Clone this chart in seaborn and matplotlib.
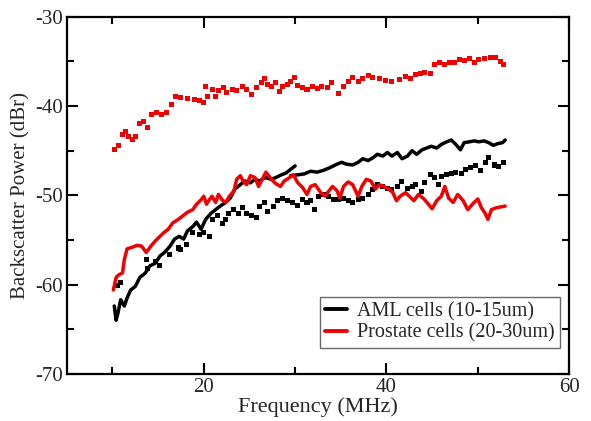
import numpy as np
import pandas as pd
import seaborn as sns
import matplotlib.pyplot as plt
from matplotlib.ticker import MultipleLocator

# AML cells, solid trace, low band (10-30 MHz)
aml_lo_x = [10.2, 10.4, 10.6, 10.9, 11.3, 11.6, 12.0, 12.5, 13.0, 13.6, 14.1, 14.7, 15.2, 15.7,
            16.3, 16.8, 17.3, 17.8, 18.2, 18.8, 19.2, 19.7, 20.2, 20.8, 21.3, 21.8, 22.4, 22.9,
            23.4, 24.0, 24.5, 25.1, 25.6, 26.1, 26.7, 27.4, 27.9, 28.5, 29.0, 29.5, 30.0]
aml_lo_y = [-62.4, -64.0, -63.2, -61.7, -62.4, -61.5, -60.6, -60.2, -59.2, -58.7, -57.9, -57.6,
            -56.8, -56.4, -55.7, -54.9, -54.6, -54.9, -54.0, -53.5, -53.0, -53.8, -52.7, -52.0,
            -51.6, -51.2, -50.8, -50.3, -49.3, -48.8, -48.4, -48.6, -48.2, -48.4, -48.0, -48.2,
            -48.0, -47.7, -47.5, -47.1, -46.7]

# AML cells, solid trace, high band
aml_hi_x = [29.5, 30.3, 31.0, 31.7, 32.4, 33.1, 33.8, 34.6, 35.1, 35.6, 36.3, 36.9, 37.4, 38.0,
            38.5, 39.0, 39.6, 40.1, 40.6, 41.2, 41.7, 42.3, 42.8, 43.3, 43.9, 44.4, 44.9, 45.5,
            46.0, 46.6, 47.1, 47.6, 48.1, 48.5, 49.1, 49.6, 50.1, 50.7, 51.2, 51.7, 52.2, 52.7, 53.0]
aml_hi_y = [-47.8, -47.7, -47.6, -47.3, -47.4, -47.2, -46.9, -46.5, -46.3, -46.5, -46.6, -46.3,
            -45.9, -46.1, -45.8, -45.4, -45.6, -45.2, -45.6, -45.2, -45.9, -45.6, -45.0, -45.4,
            -44.9, -44.7, -44.5, -44.7, -44.3, -44.0, -43.8, -44.3, -44.9, -44.1, -44.0, -43.9,
            -44.0, -43.9, -44.1, -44.4, -44.2, -44.1, -43.8]

# Prostate cells, solid trace
pro_x = [10.1, 10.4, 10.7, 11.1, 11.3, 11.6, 12.2, 12.7, 13.2, 13.7, 14.2, 14.7, 15.2, 15.6,
         16.1, 16.6, 17.2, 17.7, 18.2, 18.8, 19.2, 19.7, 20.0, 20.3, 20.6, 20.9, 21.3, 21.6,
         22.0, 22.4, 22.8, 23.3, 23.6, 24.0, 24.3, 24.7, 25.1, 25.6, 26.0, 26.4, 26.8, 27.4,
         27.9, 28.4, 28.8, 29.4, 29.8, 30.3, 30.8, 31.3, 31.7, 32.2, 32.8, 33.3, 33.7, 34.1,
         34.6, 34.9, 35.3, 35.8, 36.3, 36.9, 37.3, 37.8, 38.3, 38.8, 39.2, 39.7, 40.3, 40.7,
         41.1, 41.5, 42.1, 42.5, 43.0, 43.5, 44.1, 44.6, 45.0, 45.5, 46.0, 46.4, 46.8, 47.3,
         47.8, 48.4, 48.9, 49.5, 50.0, 50.4, 50.8, 51.1, 51.5, 52.0, 52.5, 53.0]
pro_y = [-60.6, -59.2, -58.9, -58.7, -57.2, -56.0, -55.8, -55.6, -55.7, -56.4, -55.7, -55.1,
         -54.6, -54.2, -53.8, -53.1, -52.7, -52.3, -51.9, -51.6, -51.0, -50.5, -50.1, -51.0,
         -50.5, -50.1, -50.8, -49.9, -50.5, -50.8, -50.1, -49.5, -48.2, -47.8, -48.4, -48.8,
         -47.8, -48.0, -49.0, -48.2, -47.4, -48.2, -48.7, -49.0, -48.4, -48.0, -47.7, -48.6,
         -49.1, -49.9, -49.0, -48.8, -49.7, -50.1, -49.5, -49.0, -49.5, -50.3, -49.0, -48.5,
         -48.8, -50.1, -49.0, -48.2, -48.4, -49.3, -48.8, -49.0, -49.3, -49.7, -50.6, -50.1,
         -49.7, -50.1, -50.6, -49.9, -50.4, -51.0, -51.5, -50.6, -50.1, -49.0, -50.3, -50.8,
         -49.9, -50.6, -51.6, -50.9, -50.4, -51.4, -52.0, -52.7, -51.6, -51.4, -51.3, -51.2]

# AML cells, square markers
aml_sq_x = [10.5, 10.9, 13.7, 13.8, 14.7, 15.2, 16.3, 17.2, 17.5, 18.1, 18.8, 19.5, 20.0, 20.6,
            21.0, 21.5, 22.0, 22.4, 22.7, 23.3, 23.8, 24.2, 24.7, 25.2, 25.8, 26.1, 26.7, 27.0,
            27.6, 28.1, 28.6, 29.2, 29.7, 30.3, 30.8, 31.3, 31.7, 32.1, 32.6, 33.1, 33.7, 34.2,
            34.7, 35.3, 35.8, 36.3, 36.9, 37.4, 38.0, 38.5, 39.0, 39.6, 40.1, 40.6, 41.2, 41.7,
            42.3, 42.8, 43.2, 43.8, 44.2, 44.8, 45.3, 45.7, 46.0, 46.6, 47.1, 47.6, 48.2, 48.7,
            49.2, 49.8, 50.3, 50.8, 51.2, 51.8, 52.3, 52.8]
aml_sq_y = [-60.1, -59.8, -57.2, -58.2, -57.4, -57.9, -56.6, -55.9, -56.1, -55.5, -54.2, -54.4,
            -54.2, -54.6, -52.7, -52.3, -53.1, -52.7, -52.0, -51.6, -52.0, -51.4, -52.0, -52.3,
            -52.5, -51.2, -50.8, -51.8, -51.2, -50.6, -50.4, -50.6, -50.8, -51.1, -50.5, -50.8,
            -50.6, -51.6, -50.1, -49.9, -50.1, -50.5, -50.5, -50.4, -50.6, -50.8, -50.5, -50.3,
            -49.9, -49.3, -48.8, -49.0, -49.2, -49.4, -49.0, -48.4, -49.2, -49.0, -48.8, -49.6,
            -48.6, -47.7, -48.0, -48.8, -47.9, -47.7, -47.5, -47.4, -47.5, -47.1, -46.9, -46.7,
            -47.2, -46.3, -45.8, -46.6, -46.8, -46.3]

# Prostate cells, square markers
pro_sq_x = [10.2, 10.7, 11.1, 11.4, 11.8, 12.2, 12.5, 13.0, 13.4, 13.8, 14.3, 14.8, 15.4, 15.9,
            16.5, 16.9, 17.5, 18.2, 19.0, 19.5, 20.0, 20.2, 20.4, 20.9, 21.3, 21.6, 22.2, 22.5,
            23.1, 23.6, 24.2, 24.7, 25.2, 25.8, 26.3, 26.7, 27.0, 27.4, 27.9, 28.3, 28.6, 29.2,
            29.5, 29.9, 30.3, 30.8, 31.3, 31.9, 32.4, 32.9, 33.5, 34.0, 34.7, 35.3, 35.8, 36.3,
            36.9, 37.4, 38.0, 38.5, 39.2, 39.9, 40.6, 41.4, 42.1, 42.6, 43.2, 43.7, 44.2, 44.8,
            45.3, 45.8, 46.4, 46.9, 47.5, 48.0, 48.5, 49.1, 49.6, 50.1, 50.7, 51.4, 51.9, 52.5, 52.8]
pro_sq_y = [-44.9, -44.4, -43.2, -42.9, -43.4, -43.7, -43.4, -42.0, -41.7, -42.4, -40.9, -40.7,
            -40.9, -40.7, -39.8, -38.9, -39.0, -39.1, -39.3, -39.4, -39.6, -37.8, -38.9, -38.1,
            -38.9, -38.3, -37.9, -38.5, -38.1, -38.3, -37.8, -38.1, -38.7, -37.9, -37.4, -36.9,
            -37.6, -37.8, -37.4, -38.4, -37.8, -37.6, -37.2, -36.8, -37.7, -37.9, -38.1, -37.8,
            -38.0, -37.8, -37.9, -37.4, -38.6, -37.8, -37.2, -36.8, -37.3, -36.9, -36.6, -36.8,
            -36.9, -37.1, -37.2, -37.0, -36.7, -36.9, -36.5, -36.3, -36.2, -36.3, -35.3, -35.1,
            -35.3, -35.1, -35.1, -34.8, -34.9, -34.7, -35.1, -34.8, -34.7, -34.6, -34.6, -35.0, -35.3]

labels = ["AML cells (10-15um)", "Prostate cells (20-30um)"]
colors = {labels[0]: "black", labels[1]: "#f00000"}

lines = pd.concat([
    pd.DataFrame({"f": aml_lo_x, "p": aml_lo_y, "cells": labels[0], "seg": 0}),
    pd.DataFrame({"f": aml_hi_x, "p": aml_hi_y, "cells": labels[0], "seg": 1}),
    pd.DataFrame({"f": pro_x, "p": pro_y, "cells": labels[1], "seg": 2}),
], ignore_index=True)
squares = pd.concat([
    pd.DataFrame({"f": aml_sq_x, "p": aml_sq_y, "cells": labels[0]}),
    pd.DataFrame({"f": pro_sq_x, "p": pro_sq_y, "cells": labels[1]}),
], ignore_index=True)

sns.set_style("white")
plt.rcParams["font.family"] = ["Liberation Serif", "DejaVu Serif"]
plt.rcParams["axes.unicode_minus"] = False

fig = plt.figure(figsize=(5.91, 4.21), dpi=100)
ax = fig.add_axes([0.113, 0.112, 0.85, 0.848])

sns.scatterplot(data=squares, x="f", y="p", hue="cells", palette=colors, marker="s",
                s=13, linewidth=0, legend=False, ax=ax)
sns.lineplot(data=lines, x="f", y="p", hue="cells", units="seg", estimator=None,
             palette=colors, hue_order=labels, linewidth=2.5, sort=False, ax=ax)

ax.set_xlim(5, 60)
ax.set_ylim(-70, -30)
ax.xaxis.set_major_locator(MultipleLocator(20))
ax.xaxis.set_minor_locator(MultipleLocator(10))
ax.yaxis.set_major_locator(MultipleLocator(10))
ax.yaxis.set_minor_locator(MultipleLocator(5))
ax.tick_params(which="both", direction="in", bottom=True, left=True, top=True, right=True,
               width=1.5, color="black", labelsize=15)
ax.tick_params(which="major", length=8, pad=3)
ax.tick_params(which="minor", length=5)
for s in ax.spines.values():
    s.set_linewidth(1.6)
    s.set_color("black")

ax.set_xlabel("Frequency (MHz)", fontsize=16, labelpad=0)
ax.set_ylabel("Backscatter Power (dBr)", fontsize=15, labelpad=3)

leg = ax.legend(loc="lower right", bbox_to_anchor=(0.982, 0.073), borderaxespad=0,
                fontsize=14.5, frameon=True, fancybox=False, handlelength=1.1,
                handletextpad=0.5, borderpad=0.25, labelspacing=0.1)
leg.get_frame().set_edgecolor("#444444")
leg.get_frame().set_linewidth(1.0)
for h in leg.get_lines():
    h.set_linewidth(2.8)

fig.savefig("out.png", dpi=100)
